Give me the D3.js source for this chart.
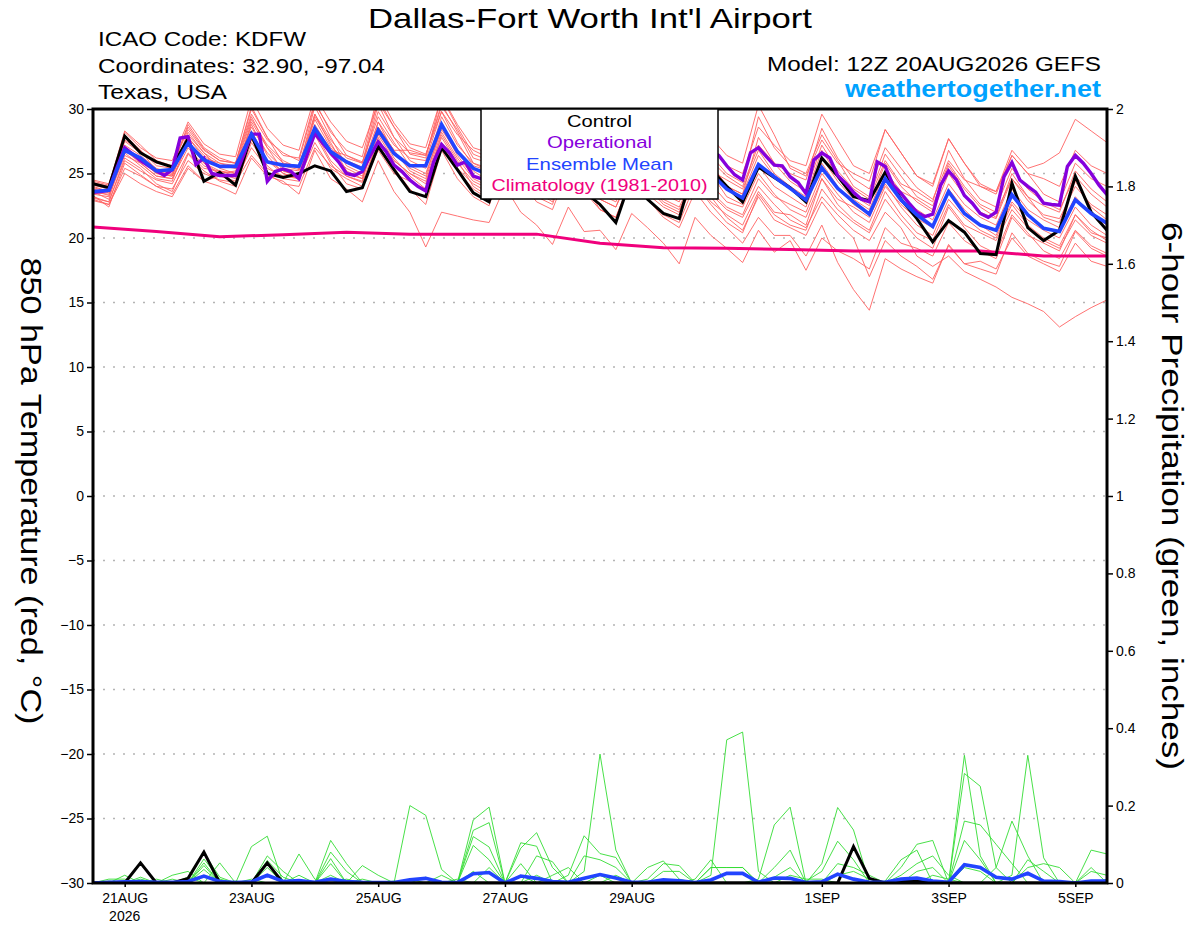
<!DOCTYPE html>
<html><head>
<meta charset="utf-8">
<title>Dallas-Fort Worth GEFS plume</title>
<script src="https://d3js.org/d3.v7.min.js"></script>
<style>
  body { margin: 0; background: #fff; }
  text { font-family: "Liberation Sans", Arial, Helvetica, sans-serif; }
</style>
</head>
<body>
<svg id="plume" width="1200" height="927"></svg>

<script>
// ---- data ----
// ensemble runs are 6-hourly from 12Z 20AUG2026, operational is 3-hourly, climatology daily
const runStart = Date.UTC(2026, 7, 20, 12);
const tickDays = ["2026-08-21", "2026-08-23", "2026-08-25", "2026-08-27", "2026-08-29", "2026-09-01", "2026-09-03", "2026-09-05"];
const tempTicks = [-30, -25, -20, -15, -10, -5, 0, 5, 10, 15, 20, 25, 30];
const precipTicks = [0, 0.2, 0.4, 0.6, 0.8, 1, 1.2, 1.4, 1.6, 1.8, 2];
const legendItems = ["Control", "Operational", "Ensemble Mean", "Climatology (1981-2010)"];

const controlT = [24.2,23.9,27.9,26.6, 25.9,25.5,27.7,24.4, 25.1,24.1,28.0,25.0, 24.7,25.0,25.6,25.2, 23.6,23.9,27.1,25.3, 23.6,23.2,27.0,25.3, 23.5,22.8,26.3,24.6, 23.6,23.2,26.0,23.6, 22.6,21.2,24.8,23.0, 21.9,21.5,25.8,25.3, 24.0,22.8,25.5,24.7, 23.9,22.8,26.2,24.8, 23.2,22.9,25.1,23.0, 21.5,19.7,21.35,20.45, 18.8,18.7,24.25,20.8, 19.8,20.6,24.8,22.0, 20.6];
const meanT = [23.6,23.7,26.8,26.2, 25.2,25.3,27.35,26.05, 25.55,25.55,28.05,25.9, 25.65,25.55,28.5,26.7, 25.9,25.35,28.35,26.55, 25.6,25.6,28.8,26.7, 25.4,24.9,27.9,26.3, 25.2,24.7,27.5,25.9, 24.6,24.0,26.9,25.4, 24.3,23.7,26.4,25.0, 23.8,23.1,25.7,24.75, 23.85,22.95,25.45,23.85, 22.8,21.85,24.6,22.95, 21.8,20.9,23.6,21.9, 21.0,20.6,23.35,21.8, 20.75,20.5,22.95,21.9, 21.15];
const operationalT = [23.55,23.6,23.7,25.4,27.0,26.5,26.0,25.6,25.2,24.85,
  25.3,27.75,27.85,25.7,26.2,25.0,24.85,24.85,24.85,26.4,
  28.05,28.05,24.4,25.15,25.35,25.15,24.6,26.4,28.1,27.35,
  26.6,25.9,25.0,24.85,25.15,26.4,27.45,26.7,25.65,25.15,
  24.5,24.0,23.65,25.9,27.25,26.6,25.65,25.9,24.8,24.6,
  24.9,26.2,27.3,26.8,26.0,25.4,24.8,24.5,24.9,26.3,
  27.0,26.5,25.8,25.2,24.6,24.2,24.5,25.8,26.9,26.4,
  25.6,25.0,24.5,24.0,24.4,25.9,26.9,27.1,26.8,26.4,
  25.6,24.9,24.5,26.6,27.0,26.3,25.65,25.6,24.75,24.3,
  23.45,26.05,26.6,26.2,24.85,24.25,23.55,23.0,22.8,25.9,
  25.55,24.1,23.45,22.7,22.0,21.65,21.85,24.1,25.2,24.5,
  23.3,22.7,21.9,21.6,22.0,24.75,25.85,24.5,24.0,23.55,
  22.7,22.6,22.55,25.55,26.4,25.8,25.0,24.1,23.35];
const climatologyT = [20.85,20.5,20.1,20.25,20.45,20.3,20.3,20.3,19.6,19.25,19.2,19.1,19.0,19.0,19.0,18.6,18.6];

const memberT01 = [24.3,24.0,28.2,27.0, 26.2,26.0,29.0,27.3, 26.5,26.3,30.8,28.5, 27.2,26.8,31.0,29.0, 27.5,27.0,30.5,28.6, 27.0,26.5,29.8,28.0, 26.8,26.2,29.5,27.6, 26.0,25.6,28.8,27.0, 25.8,25.0,28.0,26.5, 25.0,24.6,27.6,26.0, 24.8,24.0,27.2,25.8, 25.0,24.5,28.5,26.2, 24.6,23.8,27.0,25.4, 23.9,23.0,26.0,24.5, 24.0,23.6,26.8,25.4, 25.8,26.6,29.2,28.3, 27.4];
const memberT02 = [23.8,23.5,27.5,26.6, 25.8,25.6,28.6,26.9, 26.0,25.8,30.2,27.8, 26.4,26.2,30.6,28.2, 26.8,26.3,31.2,28.9, 27.3,27.0,30.9,28.6, 26.5,26.0,30.2,28.0, 25.6,25.2,29.4,27.5, 26.0,25.5,28.8,27.0, 25.3,24.8,28.0,26.4, 25.0,24.3,29.4,27.0, 25.6,25.0,28.0,26.0, 24.0,23.2,26.5,24.8, 23.2,22.5,25.8,24.0, 22.6,22.0,24.6,23.2, 22.5,22.0,25.2,23.8, 22.8];
const memberT03 = [23.4,23.2,26.4,25.8, 24.8,24.6,27.0,25.6, 25.0,25.2,28.3,26.0, 25.6,25.3,29.2,27.0, 26.0,25.5,29.0,27.2, 26.2,26.0,29.8,27.4, 25.6,25.2,28.6,26.8, 25.0,24.8,27.8,26.0, 24.8,24.2,27.0,25.5, 24.2,23.8,26.8,25.2, 24.5,23.8,26.8,25.0, 24.0,23.2,26.8,24.8, 23.3,22.5,25.8,24.0, 22.8,22.0,25.0,23.3, 22.0,21.5,24.6,22.9, 21.8,21.5,24.0,22.6, 21.8];
const memberT04 = [23.0,22.6,25.4,24.8, 24.0,23.8,26.0,25.0, 24.5,24.3,26.4,25.0, 24.2,24.0,27.0,25.6, 24.8,24.3,27.6,26.0, 25.0,24.2,28.0,26.0, 24.0,23.2,27.0,25.2, 23.6,23.0,26.4,24.8, 23.0,22.4,25.6,24.0, 22.6,22.0,25.2,23.6, 22.4,21.8,24.6,23.2, 22.6,22.0,25.0,23.4, 22.0,21.2,24.0,22.6, 21.5,20.8,23.8,22.2, 21.0,20.2,22.8,21.4, 20.6,20.0,22.4,21.0, 20.2];
const memberT05 = [23.2,22.8,26.0,25.2, 24.5,24.2,26.6,25.4, 25.2,24.8,27.6,26.0, 25.0,24.6,28.4,26.4, 25.4,24.8,28.2,26.2, 24.8,23.8,27.4,25.4, 24.2,23.5,27.2,25.0, 23.2,22.6,26.0,24.2, 22.2,21.6,24.8,23.0, 21.6,20.8,23.6,22.0, 20.8,19.6,21.6,20.2, 20.2,18.6,21.0,18.1, 16.0,14.4,18.4,17.6, 17.0,16.5,19.5,18.0, 17.6,17.2,20.4,18.8, 18.2,17.8,20.5,19.2, 18.6];
const memberT06 = [23.6,23.0,27.0,26.0, 25.0,24.8,27.8,26.2, 25.8,25.4,29.2,27.2, 26.0,25.4,30.2,27.8, 25.6,25.0,28.6,26.8, 25.2,24.6,28.2,26.2, 24.6,24.0,27.6,25.6, 24.2,23.6,26.8,25.0, 23.6,23.0,25.8,24.2, 22.8,22.2,24.8,23.4, 22.2,21.6,24.0,22.6, 21.4,20.8,23.2,21.8, 20.6,19.8,22.0,20.8, 18.6,17.8,18.6,17.4, 16.8,16.2,15.4,14.9, 14.3,13.1,13.9,14.6, 15.2];
const memberT07 = [24.5,24.2,28.0,26.8, 25.6,25.4,28.8,27.0, 26.2,25.8,29.6,27.6, 26.6,26.0,30.4,28.4, 26.4,25.8,30.8,28.6, 26.5,26.2,31.0,28.8, 27.0,26.6,30.0,28.2, 26.4,26.0,30.4,28.5, 26.2,25.6,29.0,27.4, 26.0,25.6,29.6,27.8, 26.4,25.8,30.3,28.0, 25.4,24.8,27.6,25.8, 25.0,24.4,28.4,26.6, 24.8,24.0,27.7,25.8, 24.2,23.6,26.4,25.0, 24.6,24.0,26.8,25.6, 25.0];
const memberT08 = [23.1,22.8,26.2,25.4, 24.2,23.6,26.5,25.2, 24.4,24.0,27.4,25.6, 24.6,24.4,28.0,25.8, 24.2,23.8,27.8,25.4, 23.8,22.6,26.8,24.6, 23.2,22.5,26.2,24.4, 22.8,22.2,25.4,23.6, 22.2,21.6,24.6,23.0, 21.8,21.2,24.2,22.6, 21.2,20.4,23.4,21.8, 21.0,20.6,23.8,22.2, 21.2,20.4,23.0,21.4, 20.0,19.2,22.4,20.8, 19.4,18.8,21.8,20.4, 19.0,18.4,20.6,19.4, 18.8];
const memberT09 = [24.0,23.6,27.2,26.4, 25.4,25.0,28.2,26.6, 25.8,25.6,29.4,27.0, 25.2,24.8,29.6,27.2, 25.8,25.4,30.4,27.8, 26.0,25.4,29.4,27.2, 25.8,25.2,29.8,27.6, 25.4,24.8,28.4,26.6, 24.6,24.0,27.4,25.8, 24.6,24.2,27.4,25.8, 24.0,23.4,26.4,24.8, 23.8,23.0,26.2,24.4, 23.0,22.2,25.2,23.6, 23.0,22.2,25.6,23.8, 22.4,21.6,25.0,23.2, 21.6,21.2,24.4,22.4, 21.4];
const memberT10 = [23.3,22.4,25.8,24.9, 24.0,23.4,25.6,24.4, 24.0,23.4,26.2,24.8, 24.4,23.4,26.8,24.6, 23.8,22.8,26.0,23.6, 22.0,19.3,22.0,21.7, 21.4,21.2,24.0,22.0, 21.0,19.5,22.4,20.5, 20.6,19.1,21.9,20.8, 19.6,18.0,21.6,20.2, 19.2,18.1,20.6,18.9, 19.8,17.5,20.0,19.0, 18.4,17.6,20.8,19.6, 19.2,18.6,21.2,19.8, 19.0,18.4,21.6,20.2, 19.6,19.0,21.8,20.4, 20.0];
const memberT11 = [24.1,23.8,27.6,26.8, 25.2,24.9,27.8,26.4, 25.6,25.4,28.6,26.6, 25.4,25.2,28.8,26.8, 26.4,25.9,29.4,27.4, 25.6,25.0,28.4,26.6, 25.2,24.4,28.2,26.4, 24.6,24.0,27.6,25.6, 24.4,23.8,27.6,25.6, 23.8,23.4,26.8,25.0, 23.2,22.6,25.6,24.0, 23.2,22.4,25.8,24.0, 22.6,21.8,24.6,23.0, 22.2,21.4,24.2,22.6, 21.6,21.0,23.8,22.2, 21.4,20.8,23.2,21.8, 21.0];
const memberT12 = [23.9,23.6,27.0,26.2, 25.0,24.8,28.0,26.6, 25.4,25.0,29.0,27.0, 25.8,25.6,29.6,27.6, 26.2,25.8,29.8,27.8, 26.6,26.4,30.2,28.4, 26.2,25.8,30.6,28.6, 26.6,26.2,29.8,28.0, 26.6,26.0,30.4,28.4, 26.0,25.6,28.8,27.0, 25.6,25.0,28.6,27.2, 26.0,25.6,29.6,27.6, 25.6,25.0,28.4,26.6, 24.8,24.2,27.7,25.8, 24.0,23.4,26.4,25.0, 23.4,22.8,25.8,24.6, 24.0];
const memberT13 = [23.5,23.4,26.6,25.6, 24.6,24.4,27.6,25.8, 25.2,25.0,28.8,26.4, 25.0,24.6,28.2,26.0, 24.8,24.4,29.0,26.6, 25.4,24.8,28.6,26.4, 24.8,24.4,27.8,25.8, 24.0,23.4,27.0,25.4, 23.8,23.2,26.2,24.6, 23.4,22.8,25.8,24.2, 22.8,22.4,25.0,23.4, 22.2,21.6,24.6,23.0, 22.4,21.6,24.2,22.4, 21.0,20.2,23.0,21.6, 20.6,20.0,22.6,21.0, 20.0,19.4,21.8,20.6, 19.8];
const memberT14 = [24.4,24.1,28.3,27.2, 26.0,25.6,28.4,26.8, 26.0,25.8,30.0,27.8, 25.8,25.4,29.4,27.4, 25.2,24.6,28.6,26.8, 26.8,26.4,30.4,28.2, 25.8,25.4,29.0,27.2, 25.2,24.8,28.2,26.4, 25.2,24.6,28.6,26.8, 24.8,24.2,27.2,25.6, 24.0,23.4,27.8,25.8, 24.4,23.6,27.2,25.2, 23.8,23.0,26.0,24.2, 23.6,22.8,26.8,24.6, 23.0,22.4,25.4,23.8, 22.8,22.2,24.8,23.4, 22.4];
const memberT15 = [22.9,22.6,25.0,24.2, 23.6,23.2,25.4,24.4, 24.8,24.4,27.0,25.4, 24.8,24.6,27.4,25.4, 24.6,24.0,26.8,25.0, 24.4,23.8,27.0,25.2, 23.8,23.0,26.6,24.6, 23.6,22.8,25.8,24.0, 23.0,22.4,25.0,23.4, 22.4,21.8,24.4,22.8, 21.8,21.0,23.6,22.0, 21.8,21.0,24.6,22.6, 21.4,20.6,23.6,21.8, 20.4,19.8,22.6,21.0, 20.4,19.8,22.2,20.8, 19.8,19.2,21.4,20.2, 19.6];
const memberT16 = [23.7,23.3,26.8,25.8, 24.8,24.6,27.4,25.8, 25.0,24.6,27.8,26.0, 25.2,24.8,28.6,26.6, 25.0,24.6,28.0,26.0, 25.0,24.4,27.8,25.8, 24.4,23.8,27.4,25.4, 24.4,23.8,26.6,24.8, 23.4,22.8,25.8,24.0, 23.0,22.4,25.0,23.2, 21.6,20.6,23.2,21.4, 20.8,20.2,22.8,21.2, 20.0,17.0,19.8,18.6, 17.8,16.8,19.4,18.0, 18.2,17.6,20.0,18.6, 18.0,17.4,19.6,18.2, 17.8];

const controlP = [0,0,0,0.052, 0,0,0.012,0.08, 0,0,0,0.052, 0,0,0,0, 0,0,0,0, 0,0,0,0, 0,0,0,0, 0,0,0,0, 0,0,0,0, 0,0,0,0, 0,0,0,0, 0,0,0,0, 0.094,0.012,0,0.005, 0.005,0,0,0, 0,0,0,0, 0,0,0,0, 0];
const meanP = [0,0.002,0.003,0.004, 0.002,0.002,0.004,0.018, 0.004,0.001,0.003,0.02, 0.004,0.006,0.002,0.01, 0.004,0.002,0.001,0.001, 0.008,0.012,0.002,0.001, 0.024,0.027,0,0.018, 0.012,0.004,0.002,0.012, 0.022,0.013,0.002,0.002, 0.008,0.006,0.001,0.008, 0.025,0.025,0.002,0.013, 0.012,0.001,0.003,0.023, 0.01,0.002,0.002,0.01, 0.013,0.005,0.002,0.047, 0.04,0.015,0.01,0.025, 0.005,0.004,0,0.005, 0.005];

const memberP01 = [0,0.01,0.01,0, 0,0,0.01,0.077, 0.015,0,0,0.04, 0,0,0,0.05, 0,0,0,0, 0,0,0,0, 0,0,0,0.02, 0,0,0,0.07, 0.06,0.04,0,0, 0,0,0,0, 0,0,0,0.04, 0.085,0,0,0, 0,0,0,0, 0,0,0,0.33, 0.07,0,0,0, 0,0,0,0, 0];
const memberP02 = [0,0.005,0,0.005, 0,0,0,0.062, 0.01,0,0,0.02, 0,0,0,0, 0.01,0,0,0, 0.2,0.175,0.035,0, 0,0,0,0, 0.02,0,0,0, 0,0.02,0,0, 0,0,0,0, 0,0,0,0, 0,0.005,0.03,0.108, 0.06,0,0,0, 0,0,0,0.283, 0.25,0.04,0,0, 0,0,0,0, 0];
const memberP03 = [0,0,0.02,0, 0.01,0,0,0.052, 0,0.005,0,0, 0,0.02,0,0, 0,0,0,0.005, 0,0,0,0, 0.163,0.196,0,0, 0,0,0,0, 0,0,0,0.04, 0.057,0.01,0,0, 0,0,0,0.015, 0.04,0,0,0, 0,0,0,0, 0,0,0,0.16, 0.15,0.1,0.05,0, 0,0,0,0, 0];
const memberP04 = [0,0,0,0.015, 0,0,0,0.045, 0,0,0.01,0, 0,0,0,0.08, 0.03,0,0,0, 0,0,0,0, 0.136,0.156,0,0, 0,0,0,0, 0,0,0,0.01, 0.05,0.045,0,0, 0,0,0,0, 0,0,0.05,0.195, 0.137,0,0,0, 0,0,0,0.04, 0.03,0,0,0, 0,0,0,0, 0];
const memberP05 = [0,0,0,0.01, 0,0,0,0.035, 0,0,0,0, 0,0,0,0.063, 0,0.01,0,0, 0,0,0,0, 0.12,0.093,0,0, 0,0,0,0, 0.02,0,0,0, 0,0,0.01,0.06, 0,0,0,0, 0,0,0,0.05, 0.04,0.02,0,0, 0,0,0,0, 0,0.04,0.16,0.07, 0,0,0,0, 0];
const memberP06 = [0,0,0,0, 0,0.02,0.03,0, 0.052,0,0,0, 0,0,0,0.02, 0,0,0,0, 0,0,0,0, 0.097,0.06,0,0, 0,0,0,0, 0,0,0,0, 0.03,0.03,0,0, 0,0,0,0, 0,0,0,0.02, 0.03,0.01,0,0, 0,0,0,0, 0,0,0.02,0.33, 0.065,0,0,0, 0];
const memberP07 = [0,0,0,0, 0,0.01,0,0, 0,0,0.094,0.121, 0,0,0,0, 0,0,0,0, 0.01,0,0,0, 0,0,0,0.104, 0.095,0,0,0, 0,0,0,0, 0,0,0,0.04, 0.04,0.04,0,0, 0,0,0,0, 0,0,0.005,0.06, 0.085,0,0,0, 0,0,0,0.06, 0.03,0,0,0, 0];
const memberP08 = [0,0,0,0, 0,0,0.015,0, 0,0,0,0.07, 0.03,0,0,0, 0,0,0,0, 0,0.015,0,0, 0,0,0,0.09, 0.13,0.04,0,0, 0,0,0,0, 0,0,0,0.04, 0.04,0.04,0,0, 0,0,0,0, 0,0,0,0.04, 0.1,0.11,0,0, 0,0,0,0.04, 0.05,0.04,0,0.04, 0];
const memberP09 = [0,0,0,0, 0,0,0,0.02, 0,0,0,0.058, 0.015,0,0,0, 0,0,0,0, 0,0,0.02,0, 0,0,0,0.05, 0,0,0,0.03, 0.333,0.085,0,0, 0,0,0,0, 0,0,0,0, 0,0,0,0, 0,0,0,0.02, 0.05,0.07,0.02,0, 0,0,0,0, 0,0.005,0,0, 0];
const memberP10 = [0,0,0,0, 0,0,0,0, 0,0,0,0, 0,0.075,0.01,0, 0,0,0,0, 0,0,0,0.01, 0,0,0,0, 0.07,0.055,0,0, 0,0,0,0, 0,0,0,0.02, 0.37,0.39,0.03,0, 0,0,0,0, 0,0,0,0, 0.03,0.04,0,0, 0,0,0,0, 0,0,0,0.085, 0.075];
const memberP11 = [0,0,0,0, 0,0,0,0, 0,0,0,0, 0,0,0,0.11, 0.05,0,0,0, 0,0,0,0, 0.03,0,0,0, 0,0.02,0.04,0, 0,0,0,0, 0,0,0,0, 0,0,0.01,0.15, 0.196,0,0,0, 0,0,0,0, 0,0.02,0.01,0, 0,0,0,0, 0,0,0,0.03, 0.02];
const memberP12 = [0,0,0,0, 0,0,0,0, 0,0,0,0, 0,0,0,0, 0,0.045,0.02,0, 0,0,0,0, 0,0.04,0,0, 0,0,0.02,0.122, 0.076,0.066,0,0, 0,0,0,0, 0,0,0,0, 0.02,0.01,0.01,0, 0,0,0,0, 0,0,0,0.11, 0.06,0,0,0, 0,0,0,0, 0.01];

const tempMembers = [memberT01, memberT02, memberT03, memberT04, memberT05, memberT06, memberT07, memberT08,
                     memberT09, memberT10, memberT11, memberT12, memberT13, memberT14, memberT15, memberT16];
const precipMembers = [memberP01, memberP02, memberP03, memberP04, memberP05, memberP06,
                       memberP07, memberP08, memberP09, memberP10, memberP11, memberP12];

// ---- time axes for each series ----
const hour = 3600 * 1000;
const ensTimes = controlT.map((d, i) => new Date(runStart + i * 6 * hour));
const opTimes = operationalT.map((d, i) => new Date(runStart + i * 3 * hour));
const climTimes = climatologyT.map((d, i) => new Date(runStart + i * 24 * hour));

// ---- canvas ----
const svg = d3.select("#plume");
const plot = { left: 93, right: 1107, top: 109, bottom: 883 };

const x = d3.scaleUtc()
  .domain([ensTimes[0], ensTimes[ensTimes.length - 1]])
  .range([plot.left, plot.right]);
const yT = d3.scaleLinear().domain([-30, 30]).range([plot.bottom, plot.top]);
const yP = d3.scaleLinear().domain([0, 2]).range([plot.bottom, plot.top]);

svg.append("defs").append("clipPath").attr("id", "plotClip")
  .append("rect")
  .attr("x", plot.left).attr("y", plot.top)
  .attr("width", plot.right - plot.left).attr("height", plot.bottom - plot.top);

// dotted grid on the temperature ticks
svg.append("g").attr("class", "grid")
  .selectAll("line").data(tempTicks.slice(1, -1))
  .join("line")
  .attr("x1", plot.left).attr("x2", plot.right)
  .attr("y1", d => yT(d)).attr("y2", d => yT(d))
  .attr("stroke", "#b4b4b4").attr("stroke-width", 1.6)
  .attr("stroke-dasharray", "2,8");

// line builders
const lineOn = (times, y) => d3.line().x((d, i) => x(times[i])).y(d => y(d));
const tempLine = lineOn(ensTimes, yT);
const precipLine = lineOn(ensTimes, yP);

const marks = svg.append("g").attr("clip-path", "url(#plotClip)");

marks.selectAll("path.tmember").data(tempMembers)
  .join("path").attr("class", "tmember")
  .attr("d", tempLine)
  .attr("fill", "none").attr("stroke", "#ff6262").attr("stroke-width", 0.9);

marks.selectAll("path.pmember").data(precipMembers)
  .join("path").attr("class", "pmember")
  .attr("d", precipLine)
  .attr("fill", "none").attr("stroke", "#33dd33").attr("stroke-width", 0.9);

marks.append("path").datum(climatologyT)
  .attr("d", lineOn(climTimes, yT))
  .attr("fill", "none").attr("stroke", "#f0007c").attr("stroke-width", 3);

marks.append("path").datum(controlT)
  .attr("d", tempLine)
  .attr("fill", "none").attr("stroke", "#000").attr("stroke-width", 3);

marks.append("path").datum(operationalT)
  .attr("d", lineOn(opTimes, yT))
  .attr("fill", "none").attr("stroke", "#8600dc").attr("stroke-width", 3.4);

marks.append("path").datum(meanT)
  .attr("d", tempLine)
  .attr("fill", "none").attr("stroke", "#2244ff").attr("stroke-width", 3.6);

marks.append("path").datum(controlP)
  .attr("d", precipLine)
  .attr("fill", "none").attr("stroke", "#000").attr("stroke-width", 3);

marks.append("path").datum(meanP)
  .attr("d", precipLine)
  .attr("fill", "none").attr("stroke", "#2244ff").attr("stroke-width", 3.6);

// ---- axes ----
function styleAxis(g) {
  g.select(".domain").remove();
  g.selectAll(".tick line").attr("stroke", "#000").attr("stroke-width", 1.5);
  g.selectAll(".tick text").attr("fill", "#000")
    .attr("font-size", 14).attr("font-family", "Liberation Sans, Arial, sans-serif");
}

svg.append("g")
  .attr("transform", "translate(" + plot.left + ",0)")
  .call(d3.axisLeft(yT).tickValues(tempTicks).tickSize(6).tickPadding(3))
  .call(styleAxis);

svg.append("g")
  .attr("transform", "translate(" + plot.right + ",0)")
  .call(d3.axisRight(yP).tickValues(precipTicks).tickSize(6).tickPadding(3)
    .tickFormat(d => String(+d.toFixed(1))))
  .call(styleAxis);

const tickDates = tickDays.map(s => new Date(s + "T00:00:00Z"));
const dayFormat = d3.utcFormat("%-d%b");
svg.append("g")
  .attr("transform", "translate(0," + plot.bottom + ")")
  .call(d3.axisBottom(x).tickValues(tickDates).tickSize(4).tickPadding(6)
    .tickFormat(d => dayFormat(d).toUpperCase()))
  .call(styleAxis);

svg.append("text")
  .attr("x", x(tickDates[0])).attr("y", 921)
  .attr("text-anchor", "middle").attr("font-size", 14)
  .text(d3.utcFormat("%Y")(tickDates[0]));

// frame
svg.append("rect")
  .attr("x", plot.left).attr("y", plot.top)
  .attr("width", plot.right - plot.left).attr("height", plot.bottom - plot.top)
  .attr("fill", "none").attr("stroke", "#000").attr("stroke-width", 3);

// ---- legend (sits over the lines) ----
const legendColors = ["#000", "#8600dc", "#2244ff", "#f0007c"];
const legendWidths = [65, 105, 147, 216];
const legend = svg.append("g");
legend.append("rect")
  .attr("x", 481).attr("y", plot.top).attr("width", 237).attr("height", 90)
  .attr("fill", "#fff").attr("stroke", "#000").attr("stroke-width", 1.5);
legend.selectAll("text").data(legendItems)
  .join("text")
  .attr("x", 599.5).attr("y", (d, i) => 127 + i * 21.4)
  .attr("text-anchor", "middle").attr("font-size", 17)
  .attr("textLength", (d, i) => legendWidths[i]).attr("lengthAdjust", "spacingAndGlyphs")
  .attr("fill", (d, i) => legendColors[i])
  .text(d => d);

// ---- titles ----
function label(txt, xPos, yPos, size, len, anchor) {
  return svg.append("text")
    .attr("x", xPos).attr("y", yPos)
    .attr("font-size", size).attr("text-anchor", anchor || "start")
    .attr("textLength", len).attr("lengthAdjust", "spacingAndGlyphs")
    .text(txt);
}
label("Dallas-Fort Worth Int'l Airport", 590, 28, 28, 444, "middle");
label("ICAO Code: KDFW", 98, 46, 20, 208);
label("Coordinates: 32.90, -97.04", 98, 72.5, 20, 287);
label("Texas, USA", 98, 99, 20, 129);
label("Model: 12Z 20AUG2026 GEFS", 1101, 71, 20, 334, "end");
label("weathertogether.net", 1101, 96.5, 23, 256, "end")
  .attr("font-weight", "bold").attr("fill", "#00a2ff");

// both axis titles read top to bottom
svg.append("text")
  .attr("transform", "translate(21,491) rotate(90)")
  .attr("text-anchor", "middle").attr("font-size", 29)
  .attr("textLength", 467).attr("lengthAdjust", "spacingAndGlyphs")
  .text("850 hPa Temperature (red, \u00B0C)");

svg.append("text")
  .attr("transform", "translate(1162,496) rotate(90)")
  .attr("text-anchor", "middle").attr("font-size", 29)
  .attr("textLength", 548).attr("lengthAdjust", "spacingAndGlyphs")
  .text("6-hour Precipitation (green, inches)");
</script>
</body>
</html>
